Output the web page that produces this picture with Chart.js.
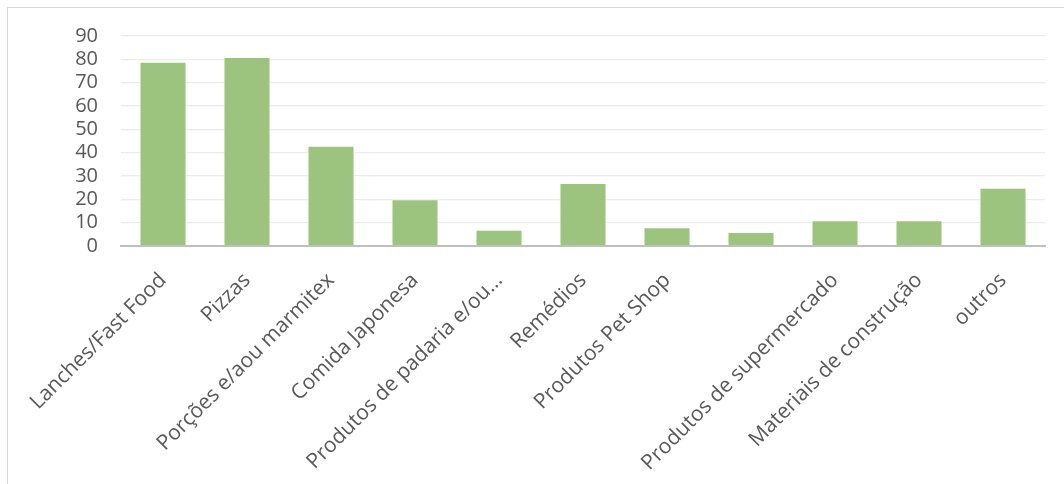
<!DOCTYPE html>
<html>
<head>
<meta charset="utf-8">
<script src="https://cdn.jsdelivr.net/npm/chart.js@4.4.1/dist/chart.umd.min.js"></script>
<style>
  html, body { margin: 0; padding: 0; background: #fff; overflow: hidden; }
  #box {
    position: absolute; left: 7px; top: 7px; width: 1070px; height: 490px;
    border: 1px solid #d9d9d9; box-sizing: border-box;
  }
  #wrap { position: absolute; left: 8px; top: 8px; width: 1056px; height: 476px; }
</style>
</head>
<body>
<div id="box"></div>
<div id="wrap"><canvas id="grafico"></canvas></div>
<script>
// Dados do gráfico
const categorias = [
  'Lanches/Fast Food', 'Pizzas', 'Porções e/aou marmitex', 'Comida Japonesa',
  'Produtos de padaria e/ou…', 'Remédios', 'Produtos Pet Shop', '',
  'Produtos de supermercado', 'Materiais de construção', 'outros'
];
const valores = [79, 81, 43, 20, 7, 27, 8, 6, 11, 11, 25];
const ticksY = [0, 10, 20, 30, 40, 50, 60, 70, 80, 90];

const fonte = "'Open Sans', 'DejaVu Sans', sans-serif";

const ctx = document.getElementById('grafico').getContext('2d');
new Chart(ctx, {
  type: 'bar',
  data: {
    labels: categorias,
    datasets: [{
      data: valores,
      backgroundColor: '#9cc47e',
      borderColor: 'rgba(255,255,255,0.5)',
      borderWidth: 1,
      categoryPercentage: 1,
      barPercentage: 0.56
    }]
  },
  options: {
    responsive: true,
    maintainAspectRatio: false,
    animation: false,
    layout: { padding: { top: 28, right: 19, bottom: 0, left: 0 } },
    plugins: {
      legend: { display: false },
      tooltip: { enabled: false }
    },
    scales: {
      y: {
        min: 0,
        max: 90,
        // largura fixa; o padding dos ticks não deve empurrar a área do gráfico
        afterFit: (s) => { s.width = 113; s.paddingTop = 12; s.paddingBottom = 12; },
        afterBuildTicks: (s) => { s.ticks = ticksY.map(v => ({ value: v })); },
        grid: { color: '#ececec', lineWidth: 1.3, drawTicks: false },
        border: { display: false },
        ticks: {
          color: '#595959', padding: 23, autoSkip: false,
          font: { family: fonte, size: 20 }
        }
      },
      x: {
        afterFit: (s) => { s.height = 238; },
        grid: { display: false },
        border: { color: '#bfbfbf', width: 2 },
        ticks: {
          color: '#595959',
          autoSkip: false,
          maxRotation: 45,
          minRotation: 45,
          padding: 14,
          font: { family: fonte, size: 21 }
        }
      }
    }
  }
});
</script>
</body>
</html>
